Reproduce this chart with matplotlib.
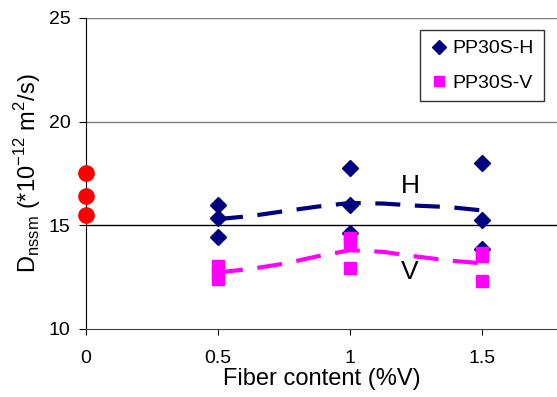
import matplotlib.pyplot as plt
import numpy as np

plt.rcParams['font.family'] = ['Liberation Sans', 'DejaVu Sans']

# neat PP reference
x_ref = [0, 0, 0]
d_ref = [17.5, 16.4, 15.5]

# PP30S-H
x_h = [0.5, 0.5, 0.5, 1.0, 1.0, 1.0, 1.5, 1.5, 1.5]
d_h = [16.0, 15.35, 14.45, 17.75, 16.0, 14.65, 18.0, 15.25, 13.85]

# PP30S-V
x_v = [0.5, 0.5, 0.5, 1.0, 1.0, 1.0, 1.5, 1.5, 1.5]
d_v = [13.05, 12.75, 12.4, 14.4, 14.2, 12.95, 13.65, 13.5, 12.3]

# smoothed trend lines through the means
x_trend = [0.5, 0.625, 0.75, 0.875, 1.0, 1.125, 1.25, 1.375, 1.5]
h_trend = [15.3, 15.45, 15.68, 15.9, 16.08, 16.05, 15.95, 15.88, 15.72]
v_trend = [12.73, 12.9, 13.15, 13.5, 13.8, 13.72, 13.5, 13.3, 13.17]

fig = plt.figure(figsize=(5.57, 3.97), dpi=100)
ax = fig.add_axes([0.1544, 0.1713, 0.8456, 0.7834])

for y, c in [(15, 'black'), (20, '#808080'), (25, '#808080')]:
    ax.axhline(y, color=c, linewidth=1.0, zorder=1)

ax.plot(x_trend, h_trend, '--', color='#000080', linewidth=3, dashes=(6, 3.5), zorder=2)
ax.plot(x_trend, v_trend, '--', color='#FF00FF', linewidth=3, dashes=(6, 3.5), zorder=2)

ax.plot(x_h, d_h, 'D', color='#000080', markersize=8, linestyle='none', label='PP30S-H', zorder=3)
ax.plot(x_v, d_v, 's', color='#FF00FF', markersize=8, linestyle='none', label='PP30S-V', zorder=3)
ax.plot(x_ref, d_ref, 'o', color='#FF0000', markersize=11, linestyle='none', zorder=4, clip_on=False)

ax.text(1.227, 16.88, 'H', fontsize=19, ha='center', va='center')
ax.text(1.227, 12.73, 'V', fontsize=19, ha='center', va='center')

ax.set_xlim(0, 1.784)
ax.set_ylim(10, 25)
ax.set_xticks([0, 0.5, 1, 1.5])
ax.set_xticklabels(['0', '0.5', '1', '1.5'])
ax.set_yticks([10, 15, 20, 25])

for s in ['top', 'right']:
    ax.spines[s].set_visible(False)
ax.spines['left'].set_color('black')
ax.spines['bottom'].set_color('#404040')
ax.tick_params(axis='both', labelsize=14, direction='out')
ax.tick_params(axis='y', length=5, pad=6)
ax.tick_params(axis='x', length=4, pad=11)

ax.set_xlabel('Fiber content (%V)', fontsize=17, labelpad=1)
ax.set_ylabel(r'D$_{\mathregular{nssm}}$ (*10$^{\mathregular{-12}}$ m$^{\mathregular{2}}$/s)', fontsize=17, labelpad=4)

leg = ax.legend(loc='upper right', bbox_to_anchor=(0.972, 0.961), borderaxespad=0,
                fontsize=14, frameon=True, fancybox=False, edgecolor='black',
                handletextpad=0.2, borderpad=0.5, labelspacing=0.85,
                handlelength=1.0, markerscale=0.85)
leg.get_frame().set_linewidth(1.0)

fig.savefig('out.png', dpi=100)
